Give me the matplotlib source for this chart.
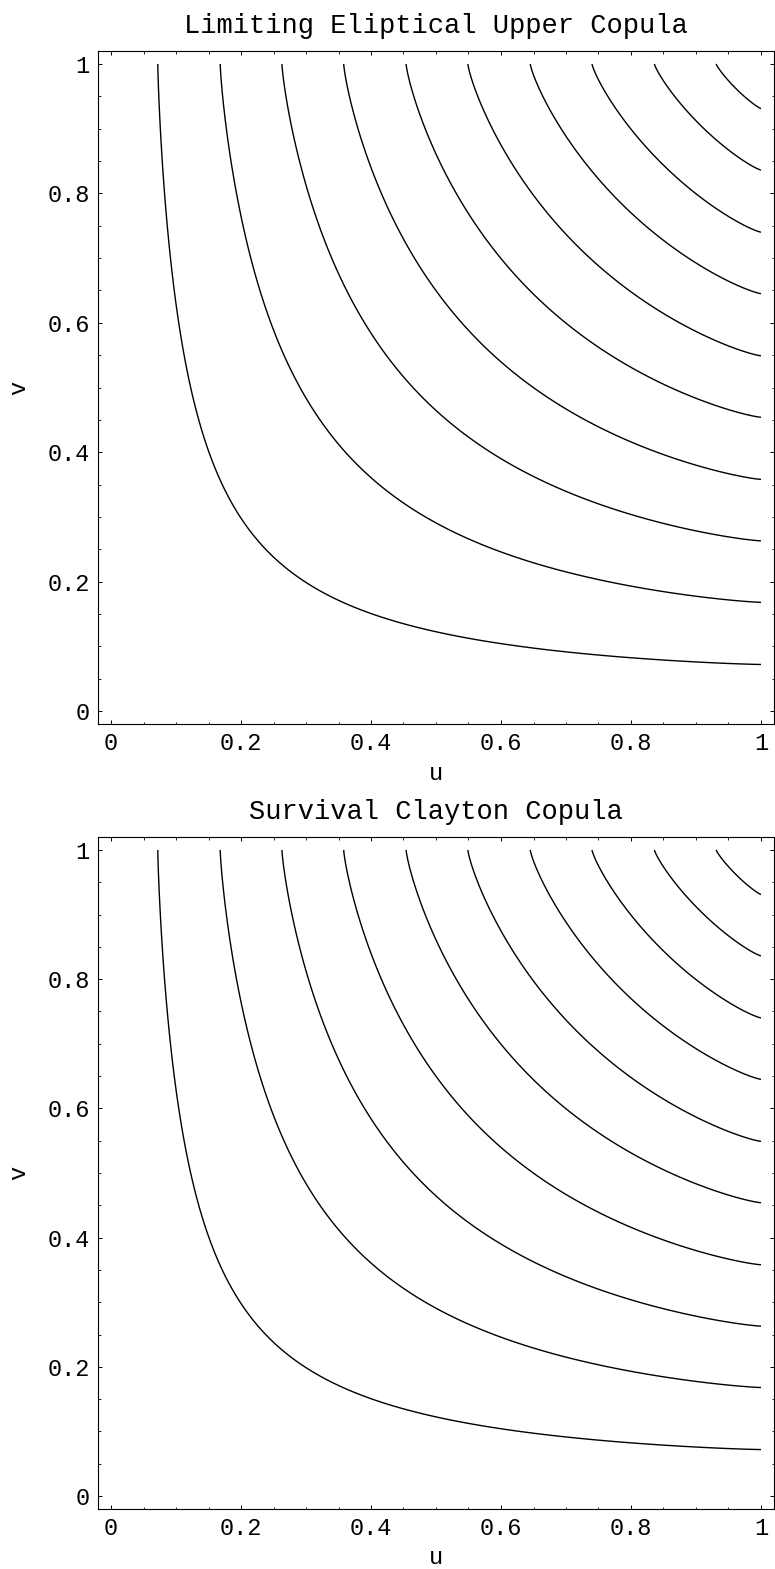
import numpy as np
import matplotlib
matplotlib.use("Agg")
import matplotlib.pyplot as plt
from matplotlib.ticker import MultipleLocator, FixedLocator, FixedFormatter

# ---- data ----
titles = ["Limiting Eliptical Upper Copula", "Survival Clayton Copula"]
theta_values = [0.30, 0.30]          # dependence parameter of each panel
contour_levels = [0.072, 0.168, 0.263, 0.358, 0.454, 0.549, 0.645, 0.740, 0.836, 0.931]
tick_values = [0, 0.2, 0.4, 0.6, 0.8, 1]
tick_labels = ["0", "0.2", "0.4", "0.6", "0.8", "1"]
x_label = "u"
y_label = "v"


def survival_clayton(u, v, theta):
    a = np.clip(1 - u, 1e-12, None) ** (-theta)
    b = np.clip(1 - v, 1e-12, None) ** (-theta)
    return u + v - 1 + (a + b - 1) ** (-1.0 / theta)


font = "Liberation Mono"
plt.rcParams["font.family"] = [font, "DejaVu Sans Mono"]

fig = plt.figure(figsize=(7.75, 15.69), dpi=100)
W, H = 775, 1569
frames = [(98, 51, 774, 724), (98, 837, 774, 1509)]

g = np.linspace(0, 1, 601)
U, V = np.meshgrid(g, g)

for (x0, y0, x1, y1), title, th in zip(frames, titles, theta_values):
    ax = fig.add_axes([x0 / W, 1 - y1 / H, (x1 - x0) / W, (y1 - y0) / H])
    Z = survival_clayton(U, V, th)
    ax.contour(U, V, Z, levels=contour_levels, colors="black", linewidths=1.0)
    ax.set_xlim(-0.02, 1.02)
    ax.set_ylim(-0.02, 1.02)
    for axis in (ax.xaxis, ax.yaxis):
        axis.set_major_locator(FixedLocator(tick_values))
        axis.set_major_formatter(FixedFormatter(tick_labels))
        axis.set_minor_locator(MultipleLocator(0.05))
    ax.tick_params(which="both", direction="in", top=True, right=True,
                   colors="black", labelsize=17, pad=6)
    ax.tick_params(which="major", length=3.0, width=0.7)
    ax.tick_params(which="minor", length=1.8, width=0.6)
    for sp in ax.spines.values():
        sp.set_linewidth(0.8)
    wpx, hpx = (x1 - x0), (y1 - y0)
    ax.text(0.5, -49 / hpx, x_label, transform=ax.transAxes,
            ha="center", va="center", fontsize=17)
    ax.text(-79 / wpx, 0.5, y_label, transform=ax.transAxes, rotation=90,
            ha="center", va="center", fontsize=17)
    ax.text(0.5, 1 + 18 / hpx, title, transform=ax.transAxes,
            ha="center", va="baseline", fontsize=19.5)

fig.savefig("out.png", dpi=100)
